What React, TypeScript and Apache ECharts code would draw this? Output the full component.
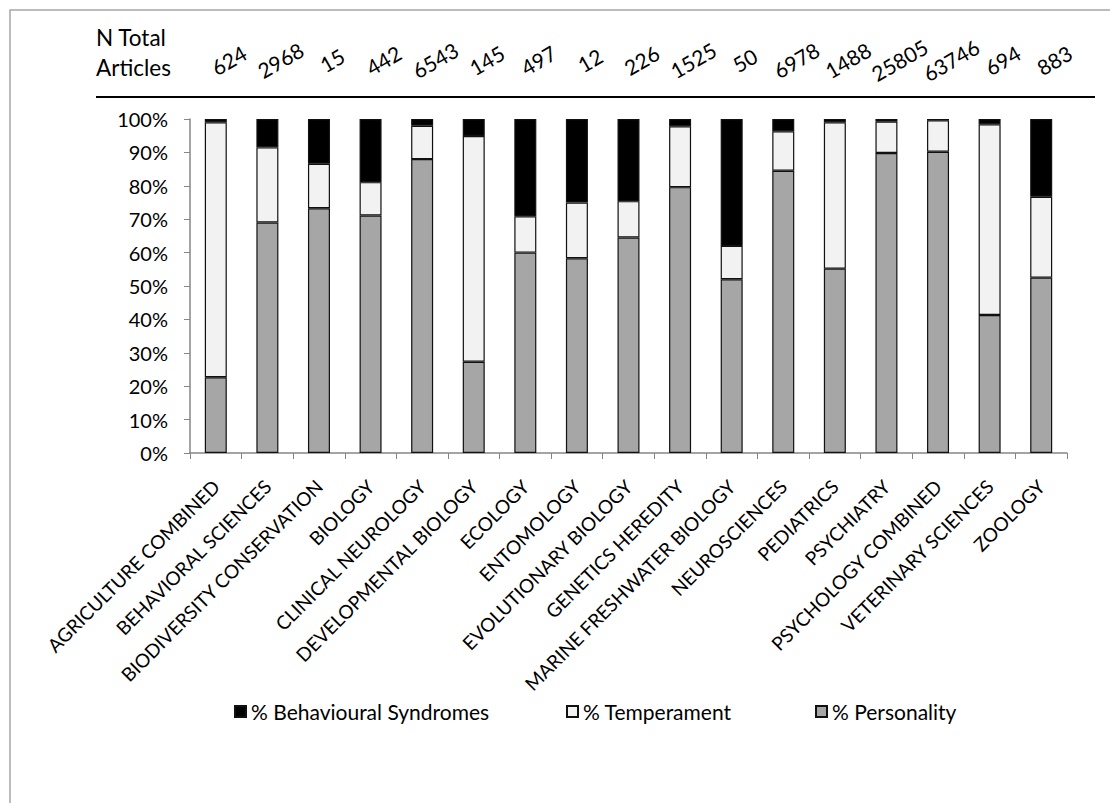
import React, { useEffect, useRef } from "react";
import * as echarts from "echarts";

const categories = [
  "AGRICULTURE COMBINED",
  "BEHAVIORAL SCIENCES",
  "BIODIVERSITY CONSERVATION",
  "BIOLOGY",
  "CLINICAL NEUROLOGY",
  "DEVELOPMENTAL BIOLOGY",
  "ECOLOGY",
  "ENTOMOLOGY",
  "EVOLUTIONARY BIOLOGY",
  "GENETICS HEREDITY",
  "MARINE FRESHWATER BIOLOGY",
  "NEUROSCIENCES",
  "PEDIATRICS",
  "PSYCHIATRY",
  "PSYCHOLOGY COMBINED",
  "VETERINARY SCIENCES",
  "ZOOLOGY",
];

const totalArticles = [
  "624", "2968", "15", "442", "6543", "145", "497", "12", "226", "1525",
  "50", "6978", "1488", "25805", "63746", "694", "883",
];

const personality = [22.7, 69, 73.3, 71.1, 88, 27.3, 60, 58.3, 64.5, 79.6, 52, 84.5, 55.2, 89.8, 90.2, 41.3, 52.5];
const temperament = [76.3, 22.5, 13.3, 10, 10, 67.6, 10.9, 16.7, 10.9, 18.2, 10, 11.8, 43.8, 9.4, 9.4, 57.1, 24.2];
const behavioural = [1.0, 8.5, 13.4, 18.9, 2, 5.1, 29.1, 25, 24.6, 2.2, 38, 3.7, 1.0, 0.8, 0.4, 1.6, 23.3];

const yTicks = [0, 10, 20, 30, 40, 50, 60, 70, 80, 90, 100];

const FONT = "Lato, 'Noto Sans', sans-serif";

export default function App() {
  const ref = useRef<HTMLDivElement>(null);

  useEffect(() => {
    document.body.style.margin = "0";
    const chart = echarts.init(ref.current!, null, { renderer: "svg" });
    const legendBase = {
      top: 701,
      padding: 0,
      itemWidth: 11,
      itemHeight: 11,
      icon: "rect",
      textStyle: { fontFamily: FONT, fontSize: 21, color: "#000" },
    };
    const option: any = {
      animation: false,
      backgroundColor: "#ffffff",
      textStyle: { fontFamily: FONT, color: "#000" },
      grid: { left: 190, right: 43, top: 119, bottom: 350, containLabel: false },
      legend: [
        { ...legendBase, data: ["% Behavioural Syndromes"], left: 234 },
        { ...legendBase, data: ["% Temperament"], left: 566 },
        { ...legendBase, data: ["% Personality"], left: 815 },
      ],
      xAxis: {
        type: "category",
        data: categories,
        boundaryGap: true,
        axisLine: { lineStyle: { color: "#868686", width: 1.5 } },
        axisTick: { show: true, length: 6, alignWithLabel: false, lineStyle: { color: "#868686" } },
        axisLabel: {
          interval: 0,
          rotate: 45,
          margin: 30,
          fontFamily: FONT,
          fontSize: 19,
          color: "#000",
        },
      },
      yAxis: {
        type: "value",
        min: yTicks[0],
        max: yTicks[yTicks.length - 1],
        interval: 10,
        axisLine: { show: true, lineStyle: { color: "#868686", width: 1.5 } },
        axisTick: { show: true, length: 6, lineStyle: { color: "#868686" } },
        splitLine: { show: false },
        axisLabel: {
          formatter: "{value}%",
          margin: 22,
          fontFamily: FONT,
          fontSize: 20,
          color: "#000",
        },
      },
      series: [
        {
          name: "% Personality",
          type: "bar",
          stack: "total",
          data: personality,
          barWidth: 22,
          itemStyle: { color: "#a6a6a6", borderColor: "#111", borderWidth: 1.2 },
        },
        {
          name: "% Temperament",
          type: "bar",
          stack: "total",
          data: temperament,
          barWidth: 22,
          itemStyle: { color: "#f2f2f2", borderColor: "#111", borderWidth: 1.2 },
        },
        {
          name: "% Behavioural Syndromes",
          type: "bar",
          stack: "total",
          data: behavioural,
          barWidth: 22,
          itemStyle: { color: "#000000", borderColor: "#111", borderWidth: 1.2 },
        },
      ],
    };
    chart.setOption(option);

    const numberTexts = totalArticles.map((t, i) => {
      const px = chart.convertToPixel({ xAxisIndex: 0 }, i) as number;
      return {
        type: "text",
        x: px + 13,
        y: 60,
        rotation: Math.PI / 6,
        style: {
          text: t,
          fontFamily: FONT,
          fontSize: 21,
          fill: "#000",
          align: "center",
          verticalAlign: "middle",
        },
      };
    });

    chart.setOption({
      graphic: [
        {
          type: "rect",
          shape: { x: 10, y: 10, width: 1300, height: 1000 },
          style: { fill: "none", stroke: "#a6a6a6", lineWidth: 1.5 },
          silent: true,
        },
        {
          type: "text",
          x: 96,
          y: 37,
          style: { text: "N Total", fontFamily: FONT, fontSize: 22.5, fill: "#000", verticalAlign: "middle" },
        },
        {
          type: "text",
          x: 96,
          y: 67,
          style: { text: "Articles", fontFamily: FONT, fontSize: 22.5, fill: "#000", verticalAlign: "middle" },
        },
        {
          type: "line",
          shape: { x1: 96, y1: 97, x2: 1095, y2: 97 },
          style: { stroke: "#000", lineWidth: 2 },
        },
        ...numberTexts,
      ],
    });

    return () => chart.dispose();
  }, []);

  return (
    <div
      ref={ref}
      style={{ position: "absolute", left: 0, top: 0, width: 1110, height: 803 }}
    />
  );
}
